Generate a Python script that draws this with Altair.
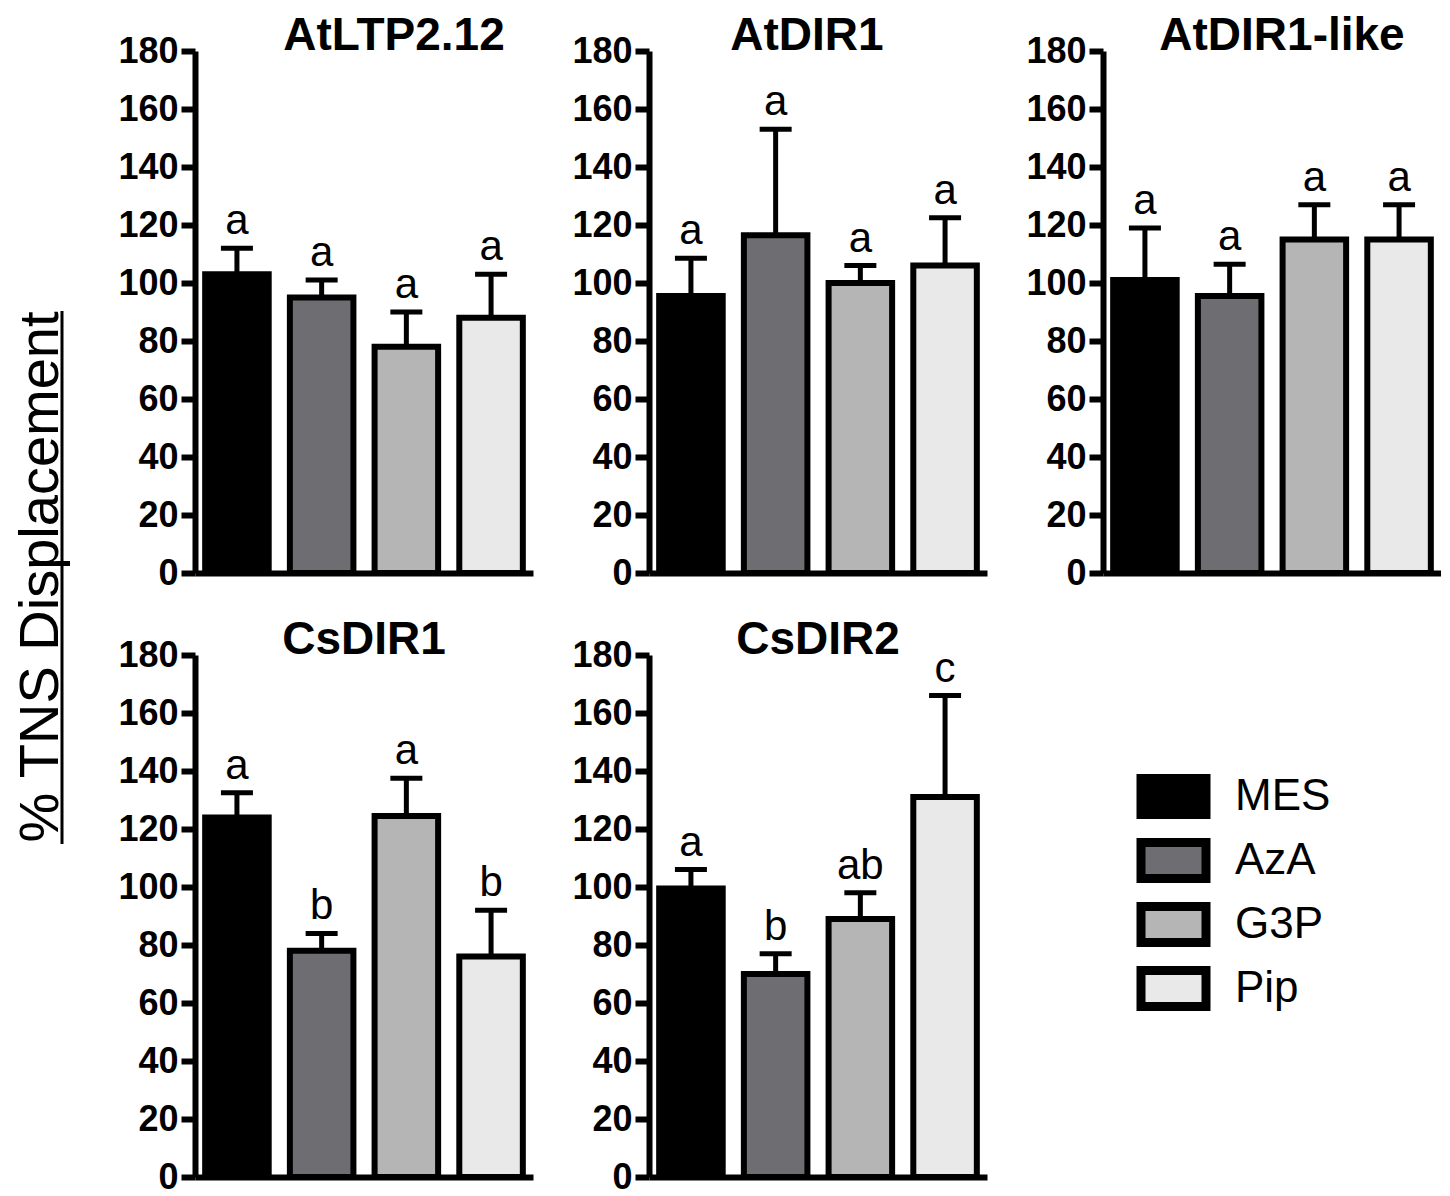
import altair as alt
import pandas as pd

genes = ["AtLTP2.12", "AtDIR1", "AtDIR1-like", "CsDIR1", "CsDIR2"]
treatments = ["MES", "AzA", "G3P", "Pip"]
colors = ["#000000", "#6e6e72", "#b5b5b5", "#e9e9e9"]

means = {
    "AtLTP2.12": [103, 95, 78, 88],
    "AtDIR1": [95.5, 116.5, 100, 106],
    "AtDIR1-like": [101, 95.5, 115, 115],
    "CsDIR1": [124, 78, 124.5, 76],
    "CsDIR2": [99.5, 70, 89, 131],
}
uppers = {
    "AtLTP2.12": [112, 101, 90, 103],
    "AtDIR1": [108.5, 153, 106, 122.5],
    "AtDIR1-like": [119, 106.5, 127, 127],
    "CsDIR1": [132.5, 84, 137.5, 92],
    "CsDIR2": [106, 77, 98, 166],
}
letters = {
    "AtLTP2.12": ["a", "a", "a", "a"],
    "AtDIR1": ["a", "a", "a", "a"],
    "AtDIR1-like": ["a", "a", "a", "a"],
    "CsDIR1": ["a", "b", "a", "b"],
    "CsDIR2": ["a", "b", "ab", "c"],
}
y_ticks = list(range(0, 181, 20))
y_label = "% TNS Displacement"

FONT = "Liberation Sans"
title_dx = {"AtLTP2.12": 30, "AtDIR1": -11, "AtDIR1-like": 10, "CsDIR1": 0, "CsDIR2": 0}

legend = alt.Legend(
    title=None, orient="none", legendX=1141, legendY=721, padding=0,
    symbolType="M-1.625,-0.9H1.625V0.9H-1.625Z", symbolSize=1600,
    symbolStrokeWidth=9, symbolStrokeColor="black", symbolOpacity=1,
    labelFont=FONT, labelFontSize=44, labelColor="black", labelOffset=37,
    rowPadding=-9,
)


def panel(gene):
    df = pd.DataFrame({
        "treatment": treatments,
        "mean": means[gene],
        "upper": uppers[gene],
        "letter": letters[gene],
    })
    base = alt.Chart(df).encode(
        x=alt.X("treatment:N", sort=treatments,
                scale=alt.Scale(paddingInner=0.25, paddingOuter=0.12),
                axis=alt.Axis(labels=False, ticks=False, title=None,
                              domainWidth=6, domainColor="black"))
    )
    yscale = alt.Scale(domain=[0, 180], nice=False)
    yaxis = alt.Axis(values=y_ticks, title=None, grid=False,
                     labelFont=FONT, labelFontSize=36, labelFontWeight="bold",
                     labelColor="black", labelPadding=3,
                     tickSize=14, tickWidth=6, tickColor="black",
                     domainWidth=6, domainColor="black")
    err = base.mark_rule(strokeWidth=5, color="black").encode(
        y=alt.Y("mean:Q", scale=yscale, axis=yaxis), y2="upper:Q")
    cap = base.mark_tick(size=32, thickness=5, color="black", opacity=1).encode(
        y=alt.Y("upper:Q", scale=yscale))
    bars = base.mark_bar(stroke="black", strokeWidth=6, opacity=1).encode(
        y=alt.Y("mean:Q", scale=yscale, axis=yaxis),
        fill=alt.Fill("treatment:N", sort=treatments,
                      scale=alt.Scale(domain=treatments, range=colors),
                      legend=legend),
    )
    txt = base.mark_text(baseline="alphabetic", dy=-14, fontSize=42,
                         font=FONT, color="black").encode(
        y=alt.Y("upper:Q", scale=yscale), text="letter:N")
    return alt.layer(err, cap, bars, txt).properties(
        width=338, height=522,
        title=alt.TitleParams(gene, font=FONT, fontSize=46, fontWeight="bold",
                              color="black", baseline="alphabetic", offset=-63,
                              anchor="middle", dx=title_dx[gene]),
    )


lab_df = pd.DataFrame({"label": [y_label]})
lab_text = alt.Chart(lab_df).mark_text(
    angle=270, baseline="alphabetic", align="center", fontSize=56,
    font=FONT, color="black").encode(
    x=alt.value(50), y=alt.value(526), text="label:N")
lab_line = alt.Chart(lab_df).mark_rule(strokeWidth=3, color="black").encode(
    x=alt.value(54), y=alt.value(260), y2=alt.value(793))
left = alt.layer(lab_text, lab_line).properties(width=60, height=1100)

row1 = alt.hconcat(panel(genes[0]), panel(genes[1]), panel(genes[2]),
                   spacing=38).resolve_scale(fill="shared")
row2 = alt.hconcat(panel(genes[3]), panel(genes[4]),
                   spacing=38).resolve_scale(fill="shared")
grid = alt.vconcat(row1, row2, spacing=26).resolve_scale(fill="shared")

chart = alt.hconcat(left, grid, spacing=48).resolve_scale(fill="shared").properties(
    padding={"top": 5, "left": 0, "right": 0, "bottom": 0}
).configure_view(stroke=None)

chart.save("out.html", embed_options={"renderer": "svg", "actions": False})
